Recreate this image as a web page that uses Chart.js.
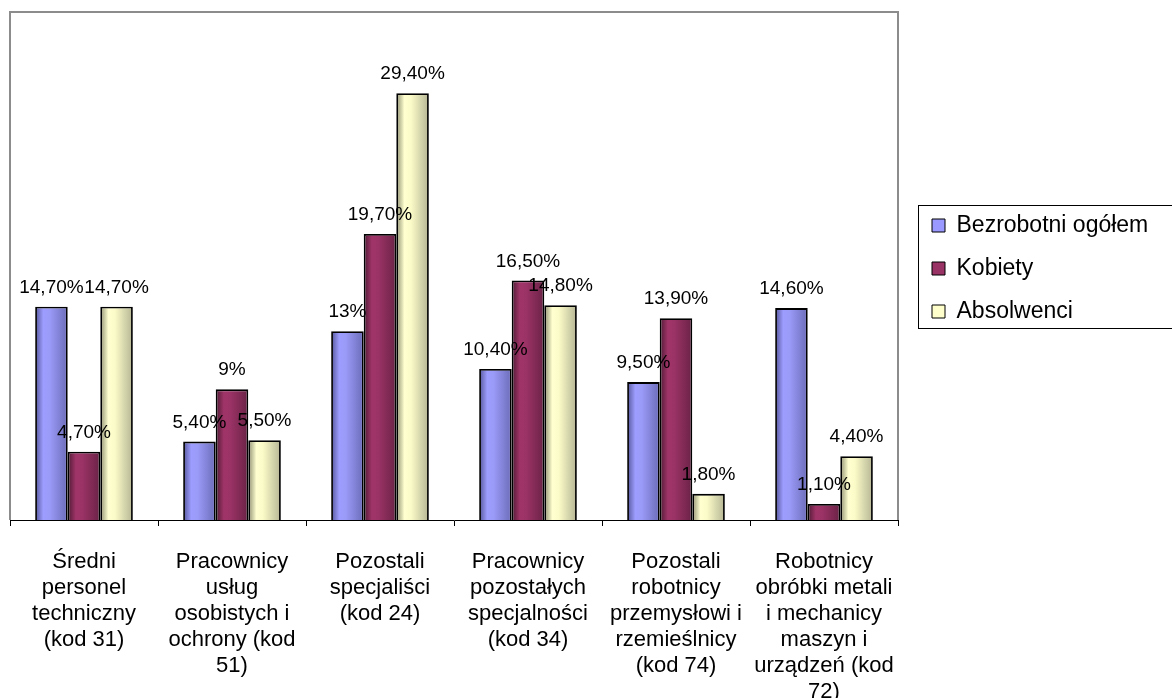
<!DOCTYPE html>
<html>
<head>
<meta charset="utf-8">
<script src="https://cdn.jsdelivr.net/npm/chart.js@4.4.1/dist/chart.umd.min.js"></script>
<style>
  html, body { margin: 0; padding: 0; background: #fff; }
  #wrap { width: 1172px; height: 698px; position: relative; }
</style>
</head>
<body>
<div id="wrap"><canvas id="chart"></canvas></div>
<script>
const categories = [
    ['Średni', 'personel', 'techniczny', '(kod 31)'],
    ['Pracownicy', 'usług', 'osobistych i', 'ochrony (kod', '51)'],
    ['Pozostali', 'specjaliści', '(kod 24)'],
    ['Pracownicy', 'pozostałych', 'specjalności', '(kod 34)'],
    ['Pozostali', 'robotnicy', 'przemysłowi i', 'rzemieślnicy', '(kod 74)'],
    ['Robotnicy', 'obróbki metali', 'i mechanicy', 'maszyn i', 'urządzeń (kod', '72)']
];
const seriesNames = ['Bezrobotni ogółem', 'Kobiety', 'Absolwenci'];
const bezrobotni = [14.7, 5.4, 13, 10.4, 9.5, 14.6];
const kobiety = [4.7, 9, 19.7, 16.5, 13.9, 1.1];
const absolwenci = [14.7, 5.5, 29.4, 14.8, 1.8, 4.4];

const FONT = '"Liberation Sans", Arial, sans-serif';

// flat colour + stops for the cylinder-ish shading
const baseColors = ['#9999ff', '#993366', '#ffffcc'];
const shades = [
    ['#55559a', '#9d9dff', '#9a9af8', '#6c6cb8'],
    ['#4d1a33', '#a03468', '#9b3366', '#6a2246'],
    ['#8e8e70', '#ffffd0', '#fbfbc8', '#b5b595']
];

function barFill(i) {
    return function (ctx) {
        const el = ctx.element;
        if (!el || !isFinite(el.x) || !el.width) return baseColors[i];
        const g = ctx.chart.ctx.createLinearGradient(el.x - el.width / 2, 0, el.x + el.width / 2, 0);
        const s = shades[i];
        g.addColorStop(0, s[0]);
        g.addColorStop(0.25, s[1]);
        g.addColorStop(0.45, s[2]);
        g.addColorStop(1, s[3]);
        return g;
    };
}

function fmt(v) {
    if (Number.isInteger(v)) return v + '%';
    return v.toFixed(2).replace('.', ',') + '%';
}

const frame = {
    id: 'frame',
    beforeDatasetsDraw(chart) {
        const { ctx, chartArea: a } = chart;
        ctx.save();
        ctx.strokeStyle = '#8c8c8c';
        ctx.lineWidth = 2;
        ctx.beginPath();
        ctx.moveTo(a.left, a.bottom);
        ctx.lineTo(a.left, a.top);
        ctx.lineTo(a.right, a.top);
        ctx.lineTo(a.right, a.bottom);
        ctx.stroke();
        ctx.restore();
    }
};

const valueLabels = {
    id: 'valueLabels',
    afterDatasetsDraw(chart) {
        const ctx = chart.ctx;
        ctx.save();
        ctx.font = '19px ' + FONT;
        ctx.fillStyle = '#000';
        ctx.textAlign = 'center';
        ctx.textBaseline = 'alphabetic';
        chart.data.datasets.forEach((ds, i) => {
            chart.getDatasetMeta(i).data.forEach((bar, j) => {
                ctx.fillText(fmt(ds.data[j]), bar.x, bar.y - 14);
            });
        });
        ctx.restore();
    }
};

const legendPlace = {
    id: 'legendPlace',
    beforeLayout(chart) {
        const lg = chart.legend;
        if (lg && !lg._patched) {
            const origFit = lg.fit;
            lg.fit = function () {
                origFit.call(this);
                this.width = 274;
            };
            lg._patched = true;
        }
    },
    afterLayout(chart) {
        const lg = chart.legend;
        const w = lg.width, h = lg.height;
        lg.left = 912;
        lg.right = lg.left + w;
        lg.top = 194;
        lg.bottom = lg.top + h;
    },
    afterDraw(chart) {
        const ctx = chart.ctx;
        ctx.save();
        ctx.strokeStyle = '#000';
        ctx.lineWidth = 1;
        ctx.strokeRect(918.5, 205.5, 300, 123);
        ctx.restore();
    }
};

const chart = new Chart(document.getElementById('chart').getContext('2d'), {
    type: 'bar',
    data: {
        labels: categories,
        datasets: [bezrobotni, kobiety, absolwenci].map((values, i) => ({
            label: seriesNames[i],
            data: values,
            backgroundColor: barFill(i),
            borderColor: '#000',
            borderWidth: 1.8,
            categoryPercentage: 0.66,
            barPercentage: 1
        }))
    },
    options: {
        responsive: true,
        maintainAspectRatio: false,
        animation: false,
        layout: { padding: { left: 10, top: 12, right: 0, bottom: 0 } },
        scales: {
            x: {
                grid: {
                    display: true,
                    offset: true,
                    drawOnChartArea: false,
                    drawTicks: true,
                    tickLength: 6,
                    color: '#000'
                },
                border: { display: true, color: '#000', width: 1 },
                ticks: {
                    color: '#000',
                    font: { family: FONT, size: 22, lineHeight: 26 / 22 },
                    padding: 23,
                    maxRotation: 0,
                    autoSkip: false
                },
                afterFit(scale) { scale.height = 178; }
            },
            y: {
                display: false,
                min: 0,
                max: 35
            }
        },
        plugins: {
            legend: {
                position: 'right',
                align: 'start',
                labels: {
                    font: { family: FONT, size: 23 },
                    color: '#000',
                    boxWidth: 13,
                    boxHeight: 13,
                    padding: 20,
                    generateLabels(c) {
                        return c.data.datasets.map((ds, i) => ({
                            text: ds.label,
                            fillStyle: baseColors[i],
                            strokeStyle: '#000',
                            lineWidth: 1,
                            hidden: false,
                            datasetIndex: i
                        }));
                    }
                }
            },
            tooltip: { enabled: false }
        }
    },
    plugins: [frame, valueLabels, legendPlace]
});
// second pass so the bar gradients can read element positions
chart.update('none');
</script>
</body>
</html>
